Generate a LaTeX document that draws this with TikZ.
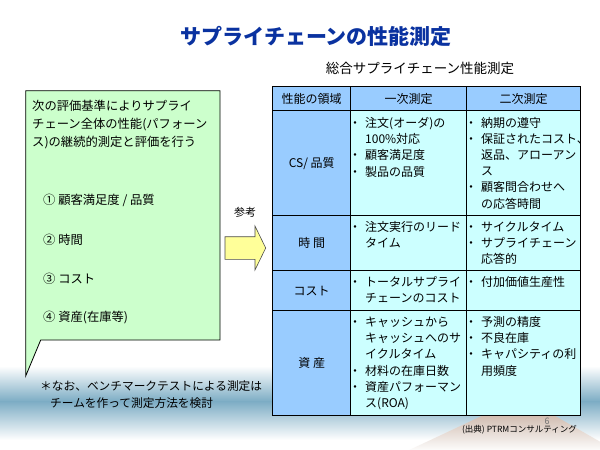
\documentclass[tikz,border=0pt]{standalone}
\usepackage{fontspec}
\setmainfont{Noto Sans CJK JP}
\definecolor{hdr}{HTML}{99CCFF}
\definecolor{cellc}{HTML}{CCFFFF}
\definecolor{boxg}{HTML}{CCFFCC}
\definecolor{arry}{HTML}{FFFF99}
\definecolor{ttl}{RGB}{10,50,160}
\definecolor{band}{RGB}{124,172,196}
\definecolor{tanc}{RGB}{186,156,138}
\newcommand\bl{\rlap{\hspace*{-4pt}・}\hspace*{12pt}}
\newcommand\ind{\hspace*{12pt}}
\begin{document}
\begin{tikzpicture}[x=1pt,y=-1pt,
  cell/.style={draw=black, line width=1.4pt, inner sep=0pt, anchor=north west},
  hd/.style={cell, fill=hdr, font=\fontsize{12}{14}\selectfont},
  bd/.style={cell, fill=cellc},
  txt/.style={inner sep=0pt, anchor=north west, align=left, font=\fontsize{12}{16.2}\selectfont},
  lbl/.style={inner sep=0pt, anchor=west, font=\fontsize{12.3}{14}\selectfont}]
\useasboundingbox (0,0) rectangle (600,450);
\begin{scope}
\clip (0,0) rectangle (600,450);
\fill[white] (0,0) rectangle (600,450);
\shade[top color=white, bottom color=band] (0,366) rectangle (600,401.5);
\shade[top color=band, bottom color=white] (0,401) rectangle (600,440);
\shade[top color=tanc, bottom color=white] (522,397) -- (405,452) -- (618,452) -- cycle;
\end{scope}
% title
\node[font=\fontsize{21}{24}\bfseries\selectfont, text=ttl, inner sep=0pt] (title) at (316,36) {サプライチェーンの性能測定};
\node[font=\fontsize{13.5}{16}\selectfont, inner sep=0pt] (sub) at (420,68.5) {総合サプライチェーン性能測定};
% table cells
\node[hd, minimum width=78pt, minimum height=24pt] (h1) at (272,86) {性能の領域};
\node[hd, minimum width=116pt, minimum height=24pt] (h2) at (350,86) {一次測定};
\node[hd, minimum width=114pt, minimum height=24pt] (h3) at (466,86) {二次測定};
\node[hd, minimum width=78pt, minimum height=105pt] (r1) at (272,110) {CS/ 品質};
\node[bd, minimum width=116pt, minimum height=105pt] (r1b) at (350,110) {};
\node[bd, minimum width=114pt, minimum height=105pt] (r1c) at (466,110) {};
\node[hd, minimum width=78pt, minimum height=55pt] (r2) at (272,215) {時 間};
\node[bd, minimum width=116pt, minimum height=55pt] (r2b) at (350,215) {};
\node[bd, minimum width=114pt, minimum height=55pt] (r2c) at (466,215) {};
\node[hd, minimum width=78pt, minimum height=40pt] (r3) at (272,270) {コスト};
\node[bd, minimum width=116pt, minimum height=40pt] (r3b) at (350,270) {};
\node[bd, minimum width=114pt, minimum height=40pt] (r3c) at (466,270) {};
\node[hd, minimum width=78pt, minimum height=105pt] (r4) at (272,310) {資 産};
\node[bd, minimum width=116pt, minimum height=105pt] (r4b) at (350,310) {};
\node[bd, minimum width=114pt, minimum height=105pt] (r4c) at (466,310) {};
% cell texts
\node[txt] (t1b) at ([xshift=3pt,yshift=-6pt]r1b.north west) {\strut\bl 注文(オーダ)の\\\ind 100\%対応\\\bl 顧客満足度\\\bl 製品の品質};
\node[txt] (t1c) at ([xshift=3pt,yshift=-5.5pt]r1c.north west) {\strut\bl 納期の遵守\\\bl 保証されたコスト、\\\ind 返品、アローアン\\\ind ス\\\bl 顧客問合わせへ\\\ind の応答時間};
\node[txt] (t2b) at ([xshift=3pt,yshift=-4.5pt]r2b.north west) {\strut\bl 注文実行のリード\\\ind タイム};
\node[txt] (t2c) at ([xshift=3pt,yshift=-4.5pt]r2c.north west) {\strut\bl サイクルタイム\\\bl サプライチェーン\\\ind 応答的};
\node[txt] (t3b) at ([xshift=3pt,yshift=-5pt]r3b.north west) {\strut\bl トータルサプライ\\\ind チェーンのコスト};
\node[txt] (t3c) at ([xshift=3pt,yshift=-5pt]r3c.north west) {\strut\bl 付加価値生産性};
\node[txt] (t4b) at ([xshift=3pt,yshift=-5pt]r4b.north west) {\strut\bl キャッシュから\\\ind キャッシュへのサ\\\ind イクルタイム\\\bl 材料の在庫日数\\\bl 資産パフォーマン\\\ind ス(ROA)};
\node[txt] (t4c) at ([xshift=3pt,yshift=-5pt]r4c.north west) {\strut\bl 予測の精度\\\bl 不良在庫\\\bl キャパシティの利\\\ind 用頻度};
% caption
\node[font=\fontsize{9}{10}\selectfont, text=black!55, inner sep=0pt] (pg) at (547,421) {6};
\node[font=\fontsize{8.5}{10}\selectfont, inner sep=0pt, anchor=east] (src) at (577,430) {(出典) PTRMコンサルティング};
% callout box
\draw[fill=boxg, line width=0.8pt] (25.7,90.7) -- (220,90.7) -- (220,340) -- (40.7,340) -- (25.7,376) -- cycle;
\node[lbl] (l1) at (32,106) {次の評価基準によりサプライ};
\node[lbl] (l2) at (32,124.5) {チェーン全体の性能(パフォーン};
\node[lbl] (l3) at (32,142.3) {ス)の継続的測定と評価を行う};
\node[lbl] (i1) at (43,200.7) {①\ 顧客満足度 / 品質};
\node[lbl] (i2) at (43,240) {②\ 時間};
\node[lbl] (i3) at (43,279) {③\ コスト};
\node[lbl] (i4) at (43,317.3) {④\ 資産(在庫等)};
% note
\node[lbl, font=\fontsize{11.7}{14}\selectfont] (n1) at (40,386) {＊なお、ベンチマークテストによる測定は};
\node[lbl, font=\fontsize{11.7}{14}\selectfont] (n2) at (50,402.7) {チームを作って測定方法を検討};
% arrow
\draw[fill=arry, draw=black!70, line width=0.6pt] (225,236.7) -- (255,236.7) -- (255,226) -- (265.7,248) -- (255,270) -- (255,259.3) -- (225,259.3) -- cycle;
\node[font=\fontsize{11}{13}\selectfont, inner sep=0pt] (ref) at (245,212.7) {参考};
\end{tikzpicture}
\end{document}
